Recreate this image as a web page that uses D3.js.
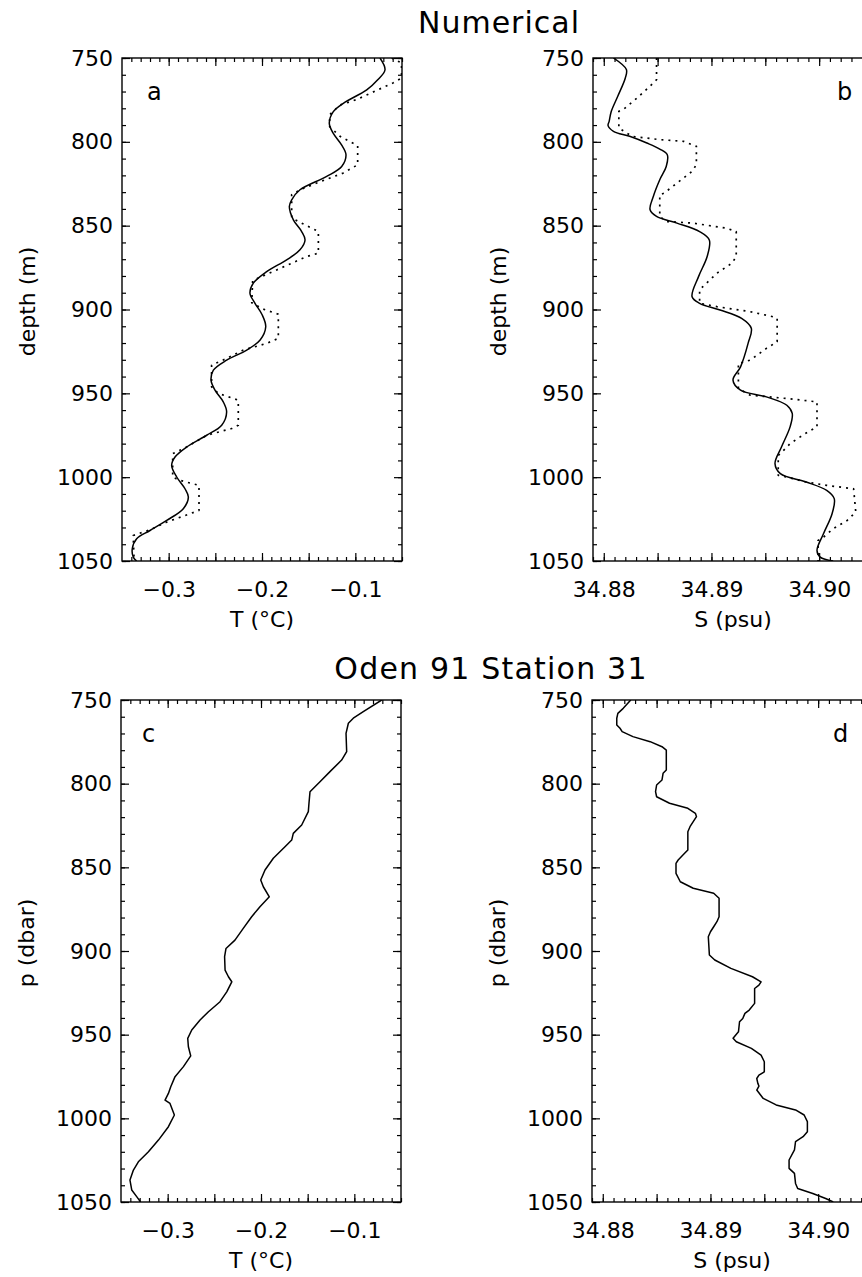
<!DOCTYPE html>
<html>
<head>
<meta charset="utf-8">
<script src="https://cdnjs.cloudflare.com/ajax/libs/d3/7.8.5/d3.min.js"></script>
<style>
  body { margin: 0; background: #fff; }
  svg { display: block; }
  text { font-family: "DejaVu Sans", sans-serif; fill: #000; }
</style>
</head>
<body>
<script>
// tick values
const depthTicks = [750, 800, 850, 900, 950, 1000, 1050];
const depthMinor = d3.range(750, 1051, 10);
const tempTicks = [-0.3, -0.2, -0.1];
const tempMajor = [-0.30, -0.25, -0.20, -0.15, -0.10];
const tempMinor = d3.range(-34, -4).map(v => v / 100);
const salTicks = [34.88, 34.89, 34.90];
const salMajor = [34.880, 34.885, 34.890, 34.895, 34.900];
const salMinor = d3.range(34879, 34906).map(v => v / 1000);

// [depth, value]
// a: numerical temperature, solid and dotted
const numTSolid = [[750,-0.0736],[757,-0.0682],[763,-0.0760],[769,-0.0878],[777,-0.1129],[782,-0.1236],[789,-0.1279],[795,-0.1236],[802,-0.1146],[807.7,-0.1100],[814.7,-0.1146],[820.6,-0.1307],[828.6,-0.1593],[834.6,-0.1682],[838.6,-0.1707],[846.5,-0.1664],[853.5,-0.1575],[858.5,-0.1539],[864.4,-0.1593],[870.4,-0.1736],[877.4,-0.1950],[884.3,-0.2093],[890.3,-0.2129],[896.3,-0.2075],[903,-0.2000],[910.3,-0.1960],[918.2,-0.2020],[924.2,-0.2164],[930.2,-0.2379],[936.2,-0.2521],[942.1,-0.2546],[948.1,-0.2504],[955.1,-0.2415],[961.1,-0.2379],[969,-0.2432],[975,-0.2593],[982,-0.2807],[988,-0.2932],[993,-0.2968],[999.9,-0.2914],[1006.9,-0.2825],[1011.9,-0.2789],[1018.8,-0.2843],[1025.8,-0.3021],[1031.8,-0.3200],[1036.7,-0.3343],[1042.7,-0.3390],[1047.7,-0.3379],[1050,-0.3343]];
const numTDotted = [[750,-0.0610],[753,-0.0505],[762,-0.0505],[764.8,-0.0593],[768.4,-0.0736],[774.8,-0.0986],[778,-0.1164],[783.8,-0.1275],[791,-0.1275],[796.7,-0.1164],[802.3,-0.0975],[813.7,-0.0975],[818.6,-0.1129],[824.6,-0.1414],[828.6,-0.1593],[831.6,-0.1682],[845.4,-0.1682],[848.5,-0.1575],[853.5,-0.1396],[866.4,-0.1396],[868.4,-0.1521],[876.4,-0.1843],[882.7,-0.2100],[896,-0.2110],[899.8,-0.1986],[902.8,-0.1825],[917.2,-0.1825],[920.2,-0.1950],[924.2,-0.2200],[929.2,-0.2379],[933.2,-0.2540],[946.1,-0.2540],[950,-0.2468],[954.1,-0.2254],[969,-0.2254],[971,-0.2325],[975,-0.2593],[982,-0.2807],[986,-0.2957],[1000,-0.2957],[1001.9,-0.2879],[1004.9,-0.2675],[1019.8,-0.2675],[1021.8,-0.2771],[1026.8,-0.3021],[1031.4,-0.3200],[1034.8,-0.3380],[1050,-0.3370]];

// b: numerical salinity, solid and dotted
const numSSolid = [[750,34.8809],[756.9,34.8821],[761.9,34.8820],[772.8,34.8813],[781.8,34.8807],[787.8,34.8805],[790.3,34.8804],[793.7,34.8809],[796.7,34.8824],[800.7,34.8840],[804.3,34.8852],[807.7,34.8859],[814.7,34.8858],[822.6,34.8852],[832.6,34.8846],[840.5,34.8843],[844.5,34.8849],[848.5,34.8868],[853.5,34.8889],[858.5,34.8898],[868.4,34.8896],[880.4,34.8888],[892.4,34.8882],[896.3,34.8889],[900.3,34.8908],[905.3,34.8928],[911.2,34.8937],[920.2,34.8934],[934.2,34.8927],[942.1,34.8920],[948.1,34.8927],[952.1,34.8951],[957.1,34.8970],[962,34.8975],[970,34.8973],[982,34.8965],[991.9,34.8959],[997.9,34.8964],[1002.9,34.8988],[1007.9,34.9007],[1012.8,34.9014],[1021.8,34.9012],[1033.8,34.9004],[1043.7,34.8998],[1047.7,34.9001],[1050,34.9013]];
const numSDotted = [[750,34.8849],[762.9,34.8849],[766.8,34.8843],[773.8,34.8831],[780.8,34.8818],[781.8,34.8814],[791.7,34.8814],[796.7,34.8826],[798.7,34.8852],[799.7,34.8874],[802.7,34.8886],[813.6,34.8886],[817.6,34.8882],[824.6,34.8868],[830.6,34.8856],[831.6,34.8852],[844.5,34.8852],[847.5,34.8858],[848.5,34.8883],[851.5,34.8914],[853.5,34.8923],[868.4,34.8923],[872.4,34.8919],[878.4,34.8905],[886.4,34.8892],[888.4,34.8889],[896.3,34.8889],[898.3,34.8905],[901.3,34.8936],[904.3,34.8957],[905.3,34.8961],[919.2,34.8961],[923.2,34.8951],[930.2,34.8936],[932.2,34.8925],[947.1,34.8925],[951.1,34.8936],[953.1,34.8970],[955.1,34.8998],[970,34.8998],[974,34.8987],[980,34.8973],[986,34.8964],[987,34.8962],[998.9,34.8962],[999.9,34.8970],[1002.9,34.8988],[1004.9,34.9007],[1006.9,34.9032],[1020.8,34.9034],[1025.8,34.9026],[1030.8,34.9013],[1035.8,34.9004],[1037.8,34.8999],[1050,34.8999]];

// c: Oden 91 station 31 temperature
const obsT = [[750,-0.0707],[757,-0.0904],[760.9,-0.1011],[763.9,-0.1064],[769.9,-0.1089],[780.9,-0.1082],[785.9,-0.1136],[792.8,-0.1261],[798.8,-0.1368],[804.8,-0.1475],[811.7,-0.1486],[816.7,-0.1493],[824.7,-0.1564],[829.7,-0.1654],[833.7,-0.1671],[837.7,-0.1743],[844.6,-0.1868],[851.6,-0.1957],[857.6,-0.2003],[861.6,-0.1975],[867.6,-0.1911],[873.5,-0.2011],[879.5,-0.2100],[886.5,-0.2190],[893.5,-0.2279],[898.5,-0.2375],[903.4,-0.2390],[911.4,-0.2385],[915.4,-0.2349],[918.4,-0.2313],[924.4,-0.2367],[930.3,-0.2439],[936.3,-0.2563],[941.2,-0.2653],[947.2,-0.2742],[952.2,-0.2785],[957.2,-0.2778],[962.7,-0.2753],[969.1,-0.2831],[975.1,-0.2921],[981.1,-0.2967],[985.1,-0.2992],[989.1,-0.3028],[991.1,-0.2975],[998,-0.2928],[1005,-0.2992],[1013,-0.3099],[1020,-0.3206],[1026,-0.3314],[1030.9,-0.3367],[1036.9,-0.3404],[1042.8,-0.3385],[1046.8,-0.3332],[1050,-0.3290]];

// d: Oden 91 station 31 salinity
const obsS = [[750,34.8826],[755,34.8819],[758,34.8814],[760.9,34.8813],[764.9,34.8813],[766.9,34.8816],[768.9,34.8818],[771.9,34.8828],[774.9,34.8844],[777.9,34.8855],[779.9,34.8859],[791.8,34.8859],[793.8,34.8856],[797.8,34.8855],[800.8,34.8850],[804.8,34.8849],[807.8,34.8850],[811.7,34.8862],[814.7,34.8879],[817.7,34.8886],[819.7,34.8887],[822.7,34.8884],[825.7,34.8881],[828.7,34.8879],[839.6,34.8879],[841.6,34.8876],[845.6,34.8870],[847.6,34.8868],[853.6,34.8868],[858.6,34.8872],[862.5,34.8884],[865.5,34.8903],[868.5,34.8908],[879.5,34.8908],[882.5,34.8906],[885.5,34.8903],[888.5,34.8900],[891.5,34.8898],[902.4,34.8899],[905.4,34.8904],[910.4,34.8919],[915.4,34.8939],[918.4,34.8947],[920.4,34.8945],[922.4,34.8941],[931.3,34.8941],[935.3,34.8936],[937.3,34.8932],[940.3,34.8930],[942.3,34.8927],[948.3,34.8926],[952.2,34.8921],[954.2,34.8924],[958.2,34.8938],[962.2,34.8947],[966.2,34.8950],[972.2,34.8950],[974.2,34.8945],[976.2,34.8943],[979.1,34.8944],[980.7,34.8945],[983.1,34.8943],[988.1,34.8949],[992,34.8961],[995,34.8979],[998,34.8987],[1002,34.8990],[1008,34.8990],[1011,34.8986],[1013.9,34.8979],[1018.9,34.8978],[1024.9,34.8973],[1029.9,34.8973],[1032.9,34.8978],[1038.9,34.8979],[1041.9,34.8981],[1044.9,34.8995],[1047.9,34.9007],[1050,34.9014]];

const W = 862, H = 1277;
const PW = 280;
const fmtT = d3.format('.1f');
const fmtS = d3.format('.2f');
const fmtD = d3.format('d');

const svg = d3.select('body').append('svg')
  .attr('width', W)
  .attr('height', H);

// titles
svg.append('text').attr('x', 499).attr('y', 33)
  .attr('text-anchor', 'middle').attr('font-size', 30).attr('letter-spacing', 1)
  .text('Numerical');
svg.append('text').attr('x', 491).attr('y', 679)
  .attr('text-anchor', 'middle').attr('font-size', 30).attr('letter-spacing', 1.2)
  .text('Oden 91 Station 31');

const temp = { domain: [-0.35, -0.05], major: tempMajor, minor: tempMinor, labels: tempTicks, fmt: fmtT };
const sal = { domain: [34.879, 34.905], major: salMajor, minor: salMinor, labels: salTicks, fmt: fmtS };

const panels = [
  { id: 'a', left: 122, top: 58, h: 503, ax: temp, lx: 25, ylab: 'depth (m)', xlab: 'T (°C)',
    lines: [{ data: numTSolid, smooth: true }, { data: numTDotted, dash: '2,5' }] },
  { id: 'b', left: 593, top: 58, h: 503, ax: sal, lx: 244, ylab: 'depth (m)', xlab: 'S (psu)',
    lines: [{ data: numSSolid, smooth: true }, { data: numSDotted, dash: '2,5' }] },
  { id: 'c', left: 121, top: 700, h: 502, ax: temp, lx: 21, ylab: 'p (dbar)', xlab: 'T (°C)',
    lines: [{ data: obsT }] },
  { id: 'd', left: 592, top: 700, h: 502, ax: sal, lx: 241, ylab: 'p (dbar)', xlab: 'S (psu)',
    lines: [{ data: obsS }] }
];

function styleAxis(g) {
  g.select('.domain').remove();
  g.selectAll('.tick line').attr('stroke', '#000').attr('stroke-width', 1.2);
  g.attr('font-size', 22).attr('font-family', '"DejaVu Sans", sans-serif');
}

panels.forEach(p => {
  const x = d3.scaleLinear().domain(p.ax.domain).range([p.left, p.left + PW]);
  const y = d3.scaleLinear().domain([750, 1050]).range([p.top, p.top + p.h]);
  const g = svg.append('g');
  const right = p.left + PW, bottom = p.top + p.h;
  const isLab = d => p.ax.labels.some(l => Math.abs(l - d) < 1e-9);

  // minor ticks on all four sides, pointing inward
  g.append('g').attr('transform', `translate(${p.left},0)`)
    .call(d3.axisLeft(y).tickValues(depthMinor).tickSize(-4).tickFormat('')).call(styleAxis);
  g.append('g').attr('transform', `translate(${right},0)`)
    .call(d3.axisRight(y).tickValues(depthMinor).tickSize(-4).tickFormat('')).call(styleAxis);
  g.append('g').attr('transform', `translate(0,${p.top})`)
    .call(d3.axisTop(x).tickValues(p.ax.minor).tickSize(-4).tickFormat('')).call(styleAxis);
  g.append('g').attr('transform', `translate(0,${bottom})`)
    .call(d3.axisBottom(x).tickValues(p.ax.minor).tickSize(-4).tickFormat('')).call(styleAxis);

  // major ticks and labels
  g.append('g').attr('transform', `translate(${p.left},0)`)
    .call(d3.axisLeft(y).tickValues(depthTicks).tickSize(-8).tickPadding(9).tickFormat(fmtD)).call(styleAxis);
  g.append('g').attr('transform', `translate(${right},0)`)
    .call(d3.axisRight(y).tickValues(depthTicks).tickSize(-8).tickFormat('')).call(styleAxis);
  g.append('g').attr('transform', `translate(0,${p.top})`)
    .call(d3.axisTop(x).tickValues(p.ax.major).tickSize(-8).tickFormat('')).call(styleAxis);
  g.append('g').attr('transform', `translate(0,${bottom})`)
    .call(d3.axisBottom(x).tickValues(p.ax.major).tickSize(-8).tickPadding(20)
      .tickFormat(d => isLab(d) ? p.ax.fmt(d) : '')).call(styleAxis);

  // frame
  g.append('rect')
    .attr('x', p.left).attr('y', p.top).attr('width', PW).attr('height', p.h)
    .attr('fill', 'none').attr('stroke', '#000').attr('stroke-width', 1.4);

  // profiles
  const clipId = 'clip-' + p.id;
  g.append('clipPath').attr('id', clipId)
    .append('rect').attr('x', p.left).attr('y', p.top).attr('width', PW).attr('height', p.h);
  p.lines.forEach(l => {
    const line = d3.line()
      .x(d => x(d[1]))
      .y(d => y(d[0]))
      .curve(l.smooth ? d3.curveCatmullRom.alpha(0.5) : d3.curveLinear);
    g.append('path')
      .datum(l.data)
      .attr('clip-path', `url(#${clipId})`)
      .attr('d', line)
      .attr('fill', 'none')
      .attr('stroke', '#000')
      .attr('stroke-width', l.dash ? 1.7 : 1.5)
      .attr('stroke-dasharray', l.dash || null)
      .attr('stroke-linejoin', 'round');
  });

  // panel letter
  g.append('text').attr('x', p.left + p.lx).attr('y', p.top + 42)
    .attr('font-size', 24).text(p.id);

  // axis titles
  g.append('text')
    .attr('transform', `translate(${p.left - 87},${p.top + p.h / 2 - 8}) rotate(-90)`)
    .attr('text-anchor', 'middle').attr('font-size', 22)
    .text(p.ylab);
  g.append('text')
    .attr('x', p.left + PW / 2).attr('y', bottom + 66)
    .attr('text-anchor', 'middle').attr('font-size', 22)
    .text(p.xlab);
});
</script>
</body>
</html>
